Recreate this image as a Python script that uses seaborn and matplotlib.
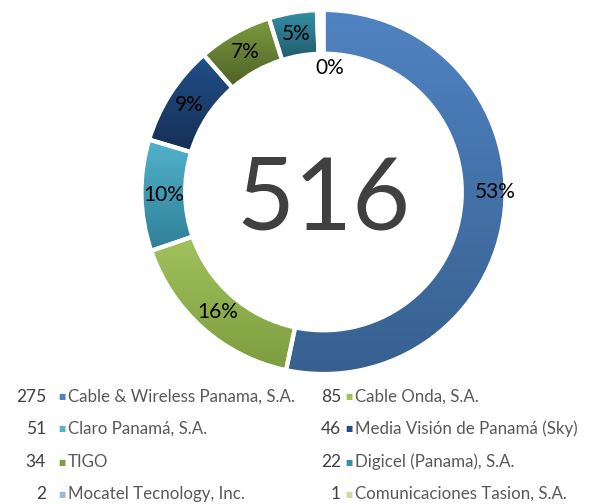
import numpy as np
import matplotlib
matplotlib.use("Agg")
import matplotlib.pyplot as plt
import matplotlib.colors as mcolors
import seaborn as sns

companies = ["Cable & Wireless Panama, S.A.", "Cable Onda, S.A.", "Claro Panamá, S.A.",
             "Media Visión de Panamá (Sky)", "TIGO", "Digicel (Panama), S.A.",
             "Mocatel Tecnology, Inc.", "Comunicaciones Tasion, S.A."]
counts = [275, 85, 51, 46, 34, 22, 2, 1]
pct_labels = ["53%", "16%", "10%", "9%", "7%", "5%", "0%", ""]
top_colors = ["#5083C2", "#A2C25E", "#52B3CC", "#21508A", "#7E9C40", "#3590A8", "#9BB8DC", "#C8DBA0"]
bottom_colors = ["#37608F", "#7D9C3E", "#2F7E96", "#152F55", "#4D6026", "#215A6C", "#7F9CC2", "#A9C27A"]

sns.set_theme(style="white")
plt.rcParams['font.family'] = ['Lato', 'DejaVu Sans']

fig = plt.figure(figsize=(5.89, 5.04), dpi=100)
W, H = 589, 504
cx, cy, R = 323.5, 192, 182
ax = fig.add_axes([(cx - R) / W, (H - cy - R) / H, 2 * R / W, 2 * R / H])

wedges, _ = ax.pie(counts, startangle=90, counterclock=False, radius=1,
                   colors=top_colors,
                   wedgeprops=dict(width=0.24, edgecolor="white", linewidth=3))
ax.set_xlim(-1, 1)
ax.set_ylim(-1, 1)
ax.set_aspect("equal")
ax.axis("off")

# vertical gradient inside each wedge
grad = np.linspace(0, 1, 256).reshape(-1, 1)
for w, c0, c1 in zip(wedges, top_colors, bottom_colors):
    cmap = mcolors.LinearSegmentedColormap.from_list("g", [c1, c0])
    bb = w.get_path().get_extents()
    im = ax.imshow(grad, cmap=cmap, origin="lower", aspect="auto",
                   extent=[bb.x0, bb.x1, bb.y0, bb.y1], zorder=w.get_zorder())
    im.set_clip_path(w)
    w.set_facecolor("none")
    w.set_zorder(3)

# percentage labels
for i, (w, lab) in enumerate(zip(wedges, pct_labels)):
    if not lab:
        continue
    ang = np.deg2rad((w.theta1 + w.theta2) / 2)
    r = 0.88
    if counts[i] <= 5:   # tiny slices: label falls inside the hole
        r, ang = 0.68, np.deg2rad(87)
    if i == 0:           # big slice label sits at the right side
        r, ang = 0.945, 0.0
    ax.text(r * np.cos(ang), r * np.sin(ang), lab,
            ha="center", va="center", fontsize=15, color="black", zorder=5)

ax.text(0, -0.208, str(sum(counts)), ha="center", va="baseline", fontsize=72,
        color="#404040", zorder=5)

# legend: two columns, value left of marker
rows_y = [397, 429, 462, 494]
cols = [(46, 62, 68), (341, 349, 355)]
for i, (name, val, col) in enumerate(zip(companies, counts, top_colors)):
    r, c = divmod(i, 2)
    vx, mx, tx = cols[c]
    y = 1 - rows_y[r] / H
    fig.text(vx / W, y, str(val), ha="right", va="center", fontsize=12.5, color="#404040")
    fig.text(mx / W, y, "■", ha="center", va="center", fontsize=5.5, color=col,
             family="DejaVu Sans")
    fig.text(tx / W, y, name, ha="left", va="center", fontsize=12.2, color="#595959")

fig.savefig("out.png", dpi=100)
